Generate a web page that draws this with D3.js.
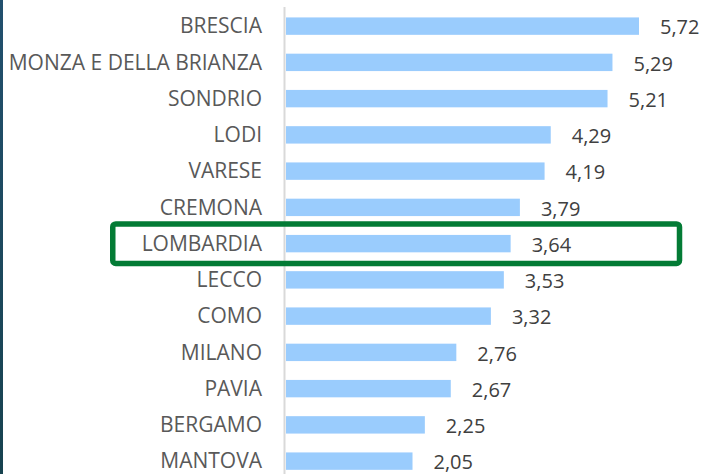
<!DOCTYPE html>
<html>
<head>
<meta charset="utf-8">
<script src="https://cdn.jsdelivr.net/npm/d3@7"></script>
<style>
  body { margin: 0; background: #fff; }
  svg { display: block; }
</style>
</head>
<body>
<svg></svg>
<script>
var width = 706;
var height = 474;

// data
var province = ["BRESCIA", "MONZA E DELLA BRIANZA", "SONDRIO", "LODI", "VARESE", "CREMONA",
                "LOMBARDIA", "LECCO", "COMO", "MILANO", "PAVIA", "BERGAMO", "MANTOVA"];
var values = [5.72, 5.29, 5.21, 4.29, 4.19, 3.79, 3.64, 3.53, 3.32, 2.76, 2.67, 2.25, 2.05];
var highlight = "LOMBARDIA";

var data = province.map((p, i) => ({name: p, value: values[i]}));

var svg = d3.select("svg")
    .attr("width", width)
    .attr("height", height);

// dark strip on the left edge
var grad = svg.append("defs").append("linearGradient")
    .attr("id", "strip")
    .attr("x1", 0).attr("y1", 0).attr("x2", 0).attr("y2", 1);
grad.append("stop").attr("offset", "0%").attr("stop-color", "#22506e");
grad.append("stop").attr("offset", "100%").attr("stop-color", "#17424f");
svg.append("rect")
    .attr("x", 0).attr("y", 0)
    .attr("width", 3).attr("height", height)
    .attr("fill", "url(#strip)");

var xScale = d3.scaleLinear()
    .domain([0, d3.max(values)])
    .range([286, 639]);

var yScale = d3.scaleBand()
    .domain(province)
    .range([8, 479.25])
    .paddingInner(0.52)
    .paddingOuter(0.26);

// vertical axis line
svg.append("line")
    .attr("x1", xScale(0) - 1.5).attr("x2", xScale(0) - 1.5)
    .attr("y1", 7).attr("y2", height)
    .attr("stroke", "#d9d9d9")
    .attr("stroke-width", 2);

// bars
svg.selectAll(".bar")
    .data(data)
    .enter()
    .append("rect")
        .attr("class", "bar")
        .attr("x", xScale(0))
        .attr("y", d => yScale(d.name))
        .attr("width", d => xScale(d.value) - xScale(0))
        .attr("height", yScale.bandwidth())
        .attr("fill", "#9accfd");

// category labels
svg.selectAll(".cat")
    .data(data)
    .enter()
    .append("text")
        .attr("class", "cat")
        .attr("x", 262)
        .attr("y", d => yScale(d.name) + yScale.bandwidth() / 2)
        .attr("dy", "0.35em")
        .attr("text-anchor", "end")
        .attr("font-family", "Open Sans")
        .attr("font-size", 21)
        .attr("fill", "#595959")
        .text(d => d.name);

// value labels
svg.selectAll(".val")
    .data(data)
    .enter()
    .append("text")
        .attr("class", "val")
        .attr("x", d => xScale(d.value) + 21)
        .attr("y", d => yScale(d.name) + yScale.bandwidth() / 2 + 1)
        .attr("dy", "0.36em")
        .attr("font-family", "Open Sans")
        .attr("font-size", 20)
        .attr("fill", "#404040")
        .text(d => d3.format(".2f")(d.value).replace(".", ","));

// highlight box around the regional total
var yc = yScale(highlight) + yScale.bandwidth() / 2;
svg.append("rect")
    .attr("x", 112.75)
    .attr("y", yc - 19.75)
    .attr("width", 566.75)
    .attr("height", 39.5)
    .attr("rx", 3)
    .attr("fill", "none")
    .attr("stroke", "#037b35")
    .attr("stroke-width", 5.5);
</script>
</body>
</html>
